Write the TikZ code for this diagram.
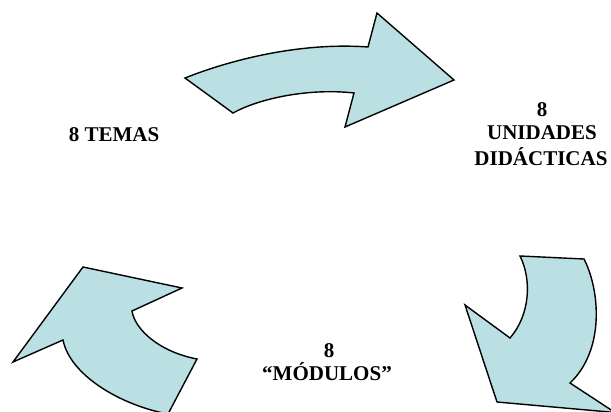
\documentclass[tikz,border=0pt]{standalone}
\usepackage{fontspec}
\setmainfont{Liberation Serif}
\definecolor{arrowfill}{RGB}{187,224,227}
\tikzset{
  bigarrow/.style={fill=arrowfill, draw=black, line width=1.4pt, line join=miter},
  lbl/.style={font=\fontsize{21}{24}\selectfont\bfseries, inner sep=0pt, anchor=base}
}
\begin{document}
\begin{tikzpicture}[x=1pt, y=-1pt]
\useasboundingbox (0,0) rectangle (611,412);
\clip (0,0) rectangle (611,412);
% top arrow
\draw[bigarrow] (185,78) .. controls (230,60) and (300,42) .. (368,47)
  -- (377,13) -- (454,80) -- (345,127) -- (354,93)
  .. controls (310,88) and (260,98) .. (233,113) -- cycle;
% right arrow
\draw[bigarrow] (520,256) -- (584,259) .. controls (600,290) and (605,350) .. (570,383)
  -- (615,412.5) -- (497,402) -- (465,305) -- (510,338)
  .. controls (530,315) and (532,280) .. (520,256) -- cycle;
% left arrow
\draw[bigarrow] (83,267) -- (182,288) -- (132,311)
  .. controls (135,330) and (160,352) .. (197,359)
  -- (168,414) .. controls (120,405) and (70,375) .. (63,340)
  -- (13,362) -- cycle;
% labels
\node[lbl] (temas) at (114,141.7) {8 TEMAS};
\node[lbl] (u1) at (542,116.7) {8};
\node[lbl] (u2) at (542,139.5) {UNIDADES};
\node[lbl] (u3) at (541,165) {DIDÁCTICAS};
\node[lbl] (m1) at (329,357) {8};
\node[lbl] (m2) at (327,380) {“MÓDULOS”};
\end{tikzpicture}
\end{document}
